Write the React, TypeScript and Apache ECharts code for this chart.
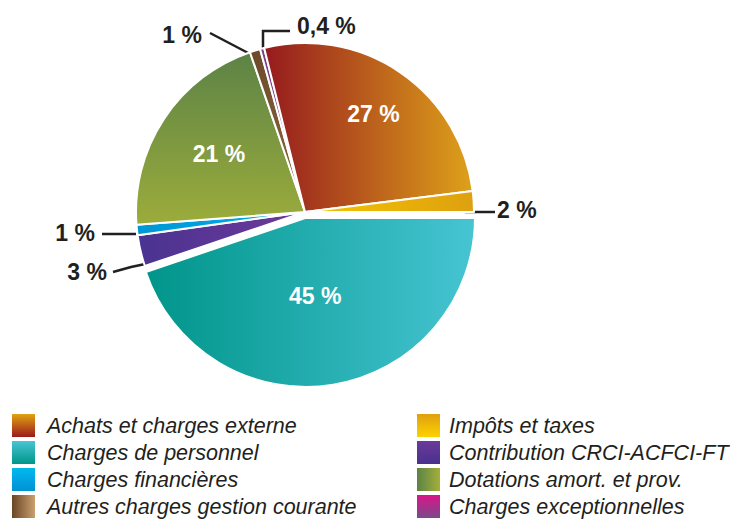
import { useEffect, useRef } from "react";
import * as echarts from "echarts";

// Slices in clockwise order, starting at 3 o'clock
const categories = [
  "Charges de personnel",
  "Contribution CRCI-ACFCI-FT",
  "Charges financières",
  "Dotations amort. et prov.",
  "Autres charges gestion courante",
  "Charges exceptionnelles",
  "Achats et charges externe",
  "Impôts et taxes",
];
const values = [45, 3, 1, 21, 1, 0.4, 27, 2];
const valueLabels = ["45 %", "3 %", "1 %", "21 %", "1 %", "0,4 %", "27 %", "2 %"];
const insideLabels = ["Charges de personnel", "Dotations amort. et prov.", "Achats et charges externe"];

const legendLeft = [
  "Achats et charges externe",
  "Charges de personnel",
  "Charges financières",
  "Autres charges gestion courante",
];
const legendRight = [
  "Impôts et taxes",
  "Contribution CRCI-ACFCI-FT",
  "Dotations amort. et prov.",
  "Charges exceptionnelles",
];

const FONT = "'Liberation Sans', Arial, Helvetica, sans-serif";
const INK = "#231f20";

const grad = (x2: number, y2: number, c0: string, c1: string) => ({
  type: "linear",
  x: 0,
  y: 0,
  x2,
  y2,
  colorStops: [
    { offset: 0, color: c0 },
    { offset: 1, color: c1 },
  ],
});

const sliceColors: Record<string, any> = {
  "Charges de personnel": grad(1, 0, "#00958a", "#46c4d2"),
  "Contribution CRCI-ACFCI-FT": grad(1, 0, "#4a3391", "#6e3a9a"),
  "Charges financières": grad(1, 0, "#0096d6", "#00b0ea"),
  "Dotations amort. et prov.": grad(0, 1, "#5c8346", "#9cac3b"),
  "Autres charges gestion courante": grad(1, 0, "#6a4828", "#8b6a42"),
  "Charges exceptionnelles": "#7c3f88",
  "Achats et charges externe": grad(1, 0, "#951a1e", "#dea11a"),
  "Impôts et taxes": grad(1, 0, "#f6c500", "#dea010"),
};

const legendColors: Record<string, any> = {
  "Achats et charges externe": grad(0, 1, "#e1a312", "#9a1a1c"),
  "Charges de personnel": grad(0, 1, "#47c5d3", "#00968a"),
  "Charges financières": grad(0, 1, "#00b9ef", "#0092d2"),
  "Autres charges gestion courante": grad(1, 0, "#6a4524", "#caa070"),
  "Impôts et taxes": grad(0, 1, "#e0a010", "#fcd200"),
  "Contribution CRCI-ACFCI-FT": grad(0, 1, "#6c3a9a", "#48318f"),
  "Dotations amort. et prov.": grad(1, 0, "#5b8346", "#a5ae3a"),
  "Charges exceptionnelles": grad(0, 1, "#da158a", "#7a4a8a"),
};

// label placement (pixels) — inside labels are nudged, outside labels are anchored
const insideNudge: Record<string, [number, number]> = {
  "Charges de personnel": [-5, -8],
  "Dotations amort. et prov.": [-13, -10],
  "Achats et charges externe": [19, -26],
};
const outsideAnchor: Record<string, { x: number; y: number; align: string; line: number[][] }> = {
  "Charges exceptionnelles": { x: 297, y: 26, align: "left", line: [[263, 49], [263, 31], [290, 31]] },
  "Autres charges gestion courante": { x: 202, y: 35, align: "right", line: [[252, 55], [231, 44], [210, 33]] },
  "Impôts et taxes": { x: 497, y: 210, align: "left", line: [[465, 212], [480, 212], [495, 212]] },
  "Charges financières": { x: 95, y: 233, align: "right", line: [[136, 234], [119, 234], [102, 234]] },
  "Contribution CRCI-ACFCI-FT": { x: 107, y: 272, align: "right", line: [[150, 263], [131, 267], [113, 272]] },
};

export default function App() {
  const ref = useRef<HTMLDivElement>(null);
  useEffect(() => {
    if (!ref.current) return;
    const chart = echarts.init(ref.current, null, { renderer: "svg" });
    const data = categories.map((name, i) => {
      const inside = insideLabels.includes(name);
      return {
        name,
        value: values[i],
        selected: name === "Charges de personnel",
        itemStyle: { color: sliceColors[name] },
        label: inside
          ? { position: "inside", color: "#ffffff" }
          : { position: "outside", color: INK },
        labelLine: { show: !inside },
      };
    });
    const legendBase = {
      orient: "vertical",
      top: 414,
      itemWidth: 23,
      itemHeight: 23,
      itemGap: 4,
      padding: 0,
      icon: "rect",
      selectedMode: false,
      itemStyle: { borderWidth: 0 },
    };
    const legendText = (pad: number) => ({
      fontSize: 21.5,
      fontStyle: "italic",
      color: INK,
      fontFamily: FONT,
      padding: [0, 0, 0, pad],
    });
    chart.setOption({
      animation: false,
      backgroundColor: "#ffffff",
      legend: [
        {
          ...legendBase,
          left: 12,
          textStyle: legendText(7),
          data: legendLeft.map((n) => ({ name: n, itemStyle: { color: legendColors[n], borderWidth: 0 } })),
        },
        {
          ...legendBase,
          left: 417,
          textStyle: legendText(4),
          data: legendRight.map((n) => ({ name: n, itemStyle: { color: legendColors[n], borderWidth: 0 } })),
        },
      ],
      series: [
        {
          type: "pie",
          center: [305, 212],
          radius: 169,
          startAngle: 0,
          clockwise: true,
          selectedMode: "multiple",
          selectedOffset: 6,
          avoidLabelOverlap: false,
          itemStyle: { borderColor: "#ffffff", borderWidth: 2 },
          label: {
            show: true,
            formatter: (p: any) => valueLabels[p.dataIndex],
            fontFamily: FONT,
            fontWeight: "bold",
            fontSize: 23,
          },
          labelLine: { lineStyle: { color: INK, width: 2.5 }, length: 15, length2: 15 },
          labelLayout: (params: any) => {
            const name = categories[params.dataIndex];
            if (insideNudge[name]) {
              const [dx, dy] = insideNudge[name];
              return { dx, dy };
            }
            const a = outsideAnchor[name];
            if (a) {
              return { x: a.x, y: a.y, align: a.align, verticalAlign: "middle", labelLinePoints: a.line };
            }
            return {};
          },
          emphasis: { disabled: true },
          data,
        },
      ],
    });
    return () => chart.dispose();
  }, []);
  return (
    <div
      ref={ref}
      style={{ position: "absolute", left: 0, top: 0, width: 737, height: 519, background: "#fff" }}
    />
  );
}
